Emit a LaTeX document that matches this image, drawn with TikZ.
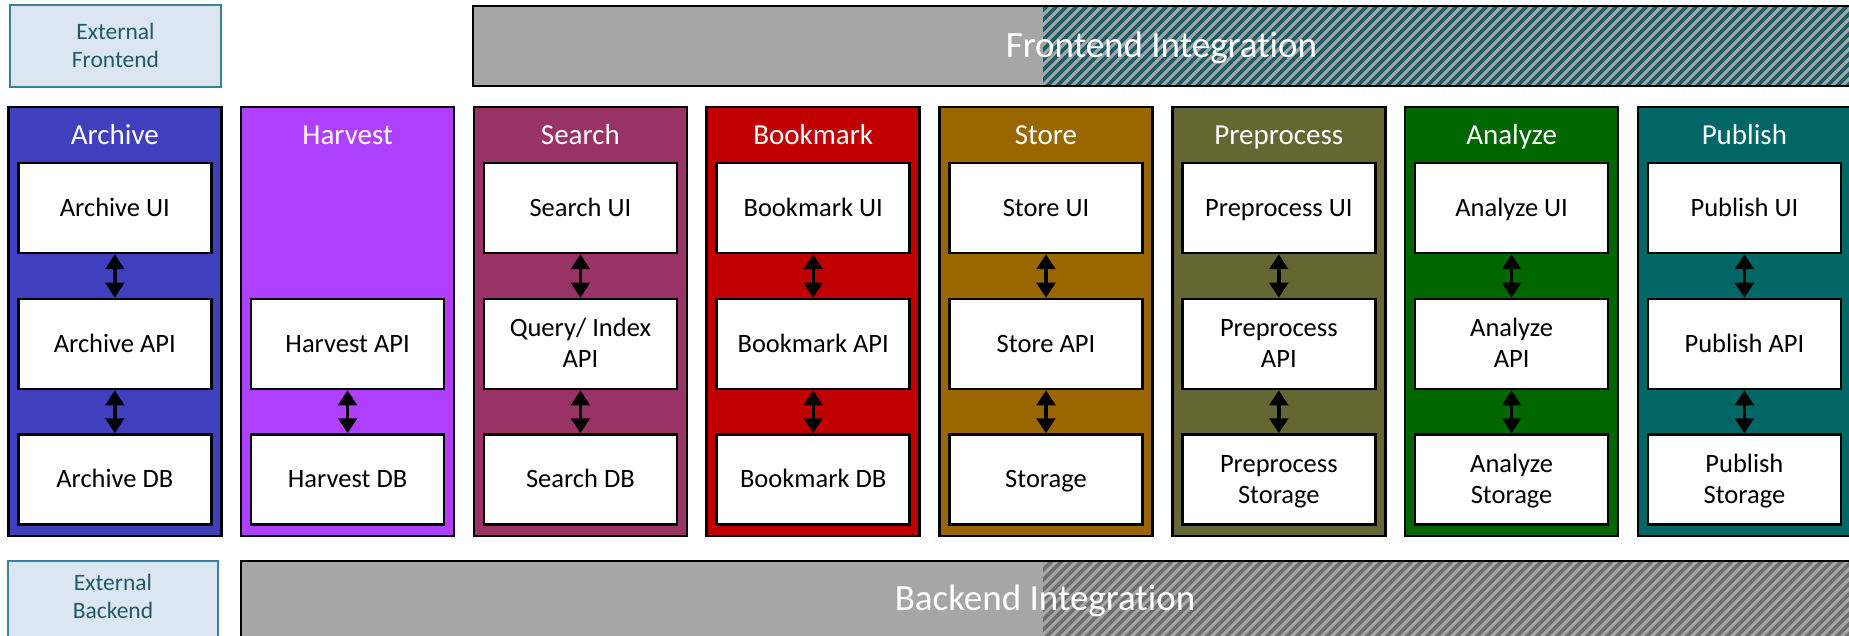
\documentclass[tikz,border=0pt]{standalone}
\usepackage{fontspec}
\setmainfont{Carlito}[Ligatures={NoCommon,NoContextual,NoDiscretionary}]
\usetikzlibrary{arrows.meta}

% column fills
\definecolor{cArchive}{HTML}{4040BF}
\definecolor{cHarvest}{HTML}{B040FF}
\definecolor{cSearch}{HTML}{993366}
\definecolor{cBookmark}{HTML}{C00000}
\definecolor{cStore}{HTML}{996600}
\definecolor{cPreprocess}{HTML}{666633}
\definecolor{cAnalyze}{HTML}{006600}
\definecolor{cPublish}{HTML}{006666}
% external boxes and integration bars
\definecolor{extfill}{HTML}{DCE6F2}
\definecolor{extborder}{HTML}{31849B}
\definecolor{exttext}{HTML}{215968}
\definecolor{bargray}{HTML}{A6A6A6}
\definecolor{fehatch}{HTML}{1B5E6A}
\definecolor{behatch}{HTML}{6F6F6F}

\begin{document}
\begin{tikzpicture}[x=1pt, y=-1pt,
  column/.style={draw=black, line width=2.5pt, minimum width=213pt,
    minimum height=429pt, inner sep=0pt, outer sep=0pt},
  header/.style={text=white, anchor=base, inner sep=0pt,
    font=\fontsize{29}{34}\selectfont},
  inbox/.style={draw=black, fill=white, line width=2.5pt,
    minimum width=193pt, minimum height=90pt, inner sep=0pt, align=center,
    font=\fontsize{26.5}{31}\selectfont, text height=16.7pt, text depth=0pt},
  twoline/.style={text height=47.7pt},
  link/.style={{Triangle[width=18.5pt,length=15pt]}-{Triangle[width=18.5pt,length=15pt]},
    line width=3.4pt, draw=black},
  extbox/.style={draw=extborder, fill=extfill, line width=2pt, inner sep=0pt,
    outer sep=0pt},
  exttxt/.style={text=exttext, align=center, inner sep=0pt,
    font=\fontsize{23.5}{28.5}\selectfont, text height=43.4pt, text depth=0pt},
  bar/.style={fill=bargray, draw=black, line width=2.5pt, inner sep=0pt,
    outer sep=0pt, anchor=north west},
  bartxt/.style={text=white, anchor=base, inner sep=0pt,
    font=\fontsize{37}{44}\selectfont},
]
\useasboundingbox (0,0) rectangle (1849,636);
\clip (0,0) rectangle (1849,636);

% reference rows
\coordinate (hdr) at (0,145);
\coordinate (rowUI) at (0,208);
\coordinate (rowAPI) at (0,344);
\coordinate (rowDB) at (0,479.5);

% external frontend
\node[extbox, minimum width=211pt, minimum height=82pt] (extFront) at (115.5,46) {};
\node[exttxt] (extFront-text) at (extFront.center) {External\\Frontend};

% frontend integration bar
\node[bar, minimum width=1400pt, minimum height=80pt] (feBar) at (473,6) {};
\begin{scope}
  \clip (1043,7.25) rectangle (1880,84.75);
  \foreach \k in {0,...,95}
    \draw[fehatch, line width=3.6pt] ({963+10*\k},90) -- ++(88,-88);
\end{scope}
\node[bartxt] (feText) at (1161.5,58) {Frontend Integration};

% service columns with headers
\foreach \nm/\cl [count=\i from 0] in {Archive/cArchive, Harvest/cHarvest,
    Search/cSearch, Bookmark/cBookmark, Store/cStore,
    Preprocess/cPreprocess, Analyze/cAnalyze, Publish/cPublish} {
  \node[column, fill=\cl] (\nm) at ({8.3+232.8*\i+106.5},321.5) {};
  \node[header] (\nm-head) at (\nm |- hdr) {\nm};
}

% Archive
\node[inbox] (ArchiveUI) at (Archive |- rowUI) {Archive UI};
\node[inbox] (ArchiveAPI) at (Archive |- rowAPI) {Archive API};
\node[inbox] (ArchiveDB) at (Archive |- rowDB) {Archive DB};
\draw[link] (ArchiveUI) -- (ArchiveAPI);
\draw[link] (ArchiveAPI) -- (ArchiveDB);

% Harvest
\node[inbox] (HarvestAPI) at (Harvest |- rowAPI) {Harvest API};
\node[inbox] (HarvestDB) at (Harvest |- rowDB) {Harvest DB};
\draw[link] (HarvestAPI) -- (HarvestDB);

% Search
\node[inbox] (SearchUI) at (Search |- rowUI) {Search UI};
\node[inbox, twoline] (SearchAPI) at (Search |- rowAPI) {Query/ Index\\API};
\node[inbox] (SearchDB) at (Search |- rowDB) {Search DB};
\draw[link] (SearchUI) -- (SearchAPI);
\draw[link] (SearchAPI) -- (SearchDB);

% Bookmark
\node[inbox] (BookmarkUI) at (Bookmark |- rowUI) {Bookmark UI};
\node[inbox] (BookmarkAPI) at (Bookmark |- rowAPI) {Bookmark API};
\node[inbox] (BookmarkDB) at (Bookmark |- rowDB) {Bookmark DB};
\draw[link] (BookmarkUI) -- (BookmarkAPI);
\draw[link] (BookmarkAPI) -- (BookmarkDB);

% Store
\node[inbox] (StoreUI) at (Store |- rowUI) {Store UI};
\node[inbox] (StoreAPI) at (Store |- rowAPI) {Store API};
\node[inbox] (StoreDB) at (Store |- rowDB) {Storage};
\draw[link] (StoreUI) -- (StoreAPI);
\draw[link] (StoreAPI) -- (StoreDB);

% Preprocess
\node[inbox] (PreprocessUI) at (Preprocess |- rowUI) {Preprocess UI};
\node[inbox, twoline] (PreprocessAPI) at (Preprocess |- rowAPI) {Preprocess\\API};
\node[inbox, twoline] (PreprocessDB) at (Preprocess |- rowDB) {Preprocess\\Storage};
\draw[link] (PreprocessUI) -- (PreprocessAPI);
\draw[link] (PreprocessAPI) -- (PreprocessDB);

% Analyze
\node[inbox] (AnalyzeUI) at (Analyze |- rowUI) {Analyze UI};
\node[inbox, twoline] (AnalyzeAPI) at (Analyze |- rowAPI) {Analyze\\API};
\node[inbox, twoline] (AnalyzeDB) at (Analyze |- rowDB) {Analyze\\Storage};
\draw[link] (AnalyzeUI) -- (AnalyzeAPI);
\draw[link] (AnalyzeAPI) -- (AnalyzeDB);

% Publish
\node[inbox] (PublishUI) at (Publish |- rowUI) {Publish UI};
\node[inbox] (PublishAPI) at (Publish |- rowAPI) {Publish API};
\node[inbox, twoline] (PublishDB) at (Publish |- rowDB) {Publish\\Storage};
\draw[link] (PublishUI) -- (PublishAPI);
\draw[link] (PublishAPI) -- (PublishDB);

% external backend
\node[extbox, minimum width=210pt, minimum height=100pt, anchor=north west] (extBack) at (8,561) {};
\node[exttxt] (extBack-text) at (113,597) {External\\Backend};

% backend integration bar
\node[bar, minimum width=1640pt, minimum height=100pt] (beBar) at (241,561) {};
\begin{scope}
  \clip (1043,562.25) rectangle (1890,670);
  \foreach \k in {0,...,95}
    \draw[behatch, line width=3.6pt] ({933+10*\k},670) -- ++(115,-115);
\end{scope}
\node[bartxt] (beText) at (1045,610.7) {Backend Integration};
\end{tikzpicture}
\end{document}
